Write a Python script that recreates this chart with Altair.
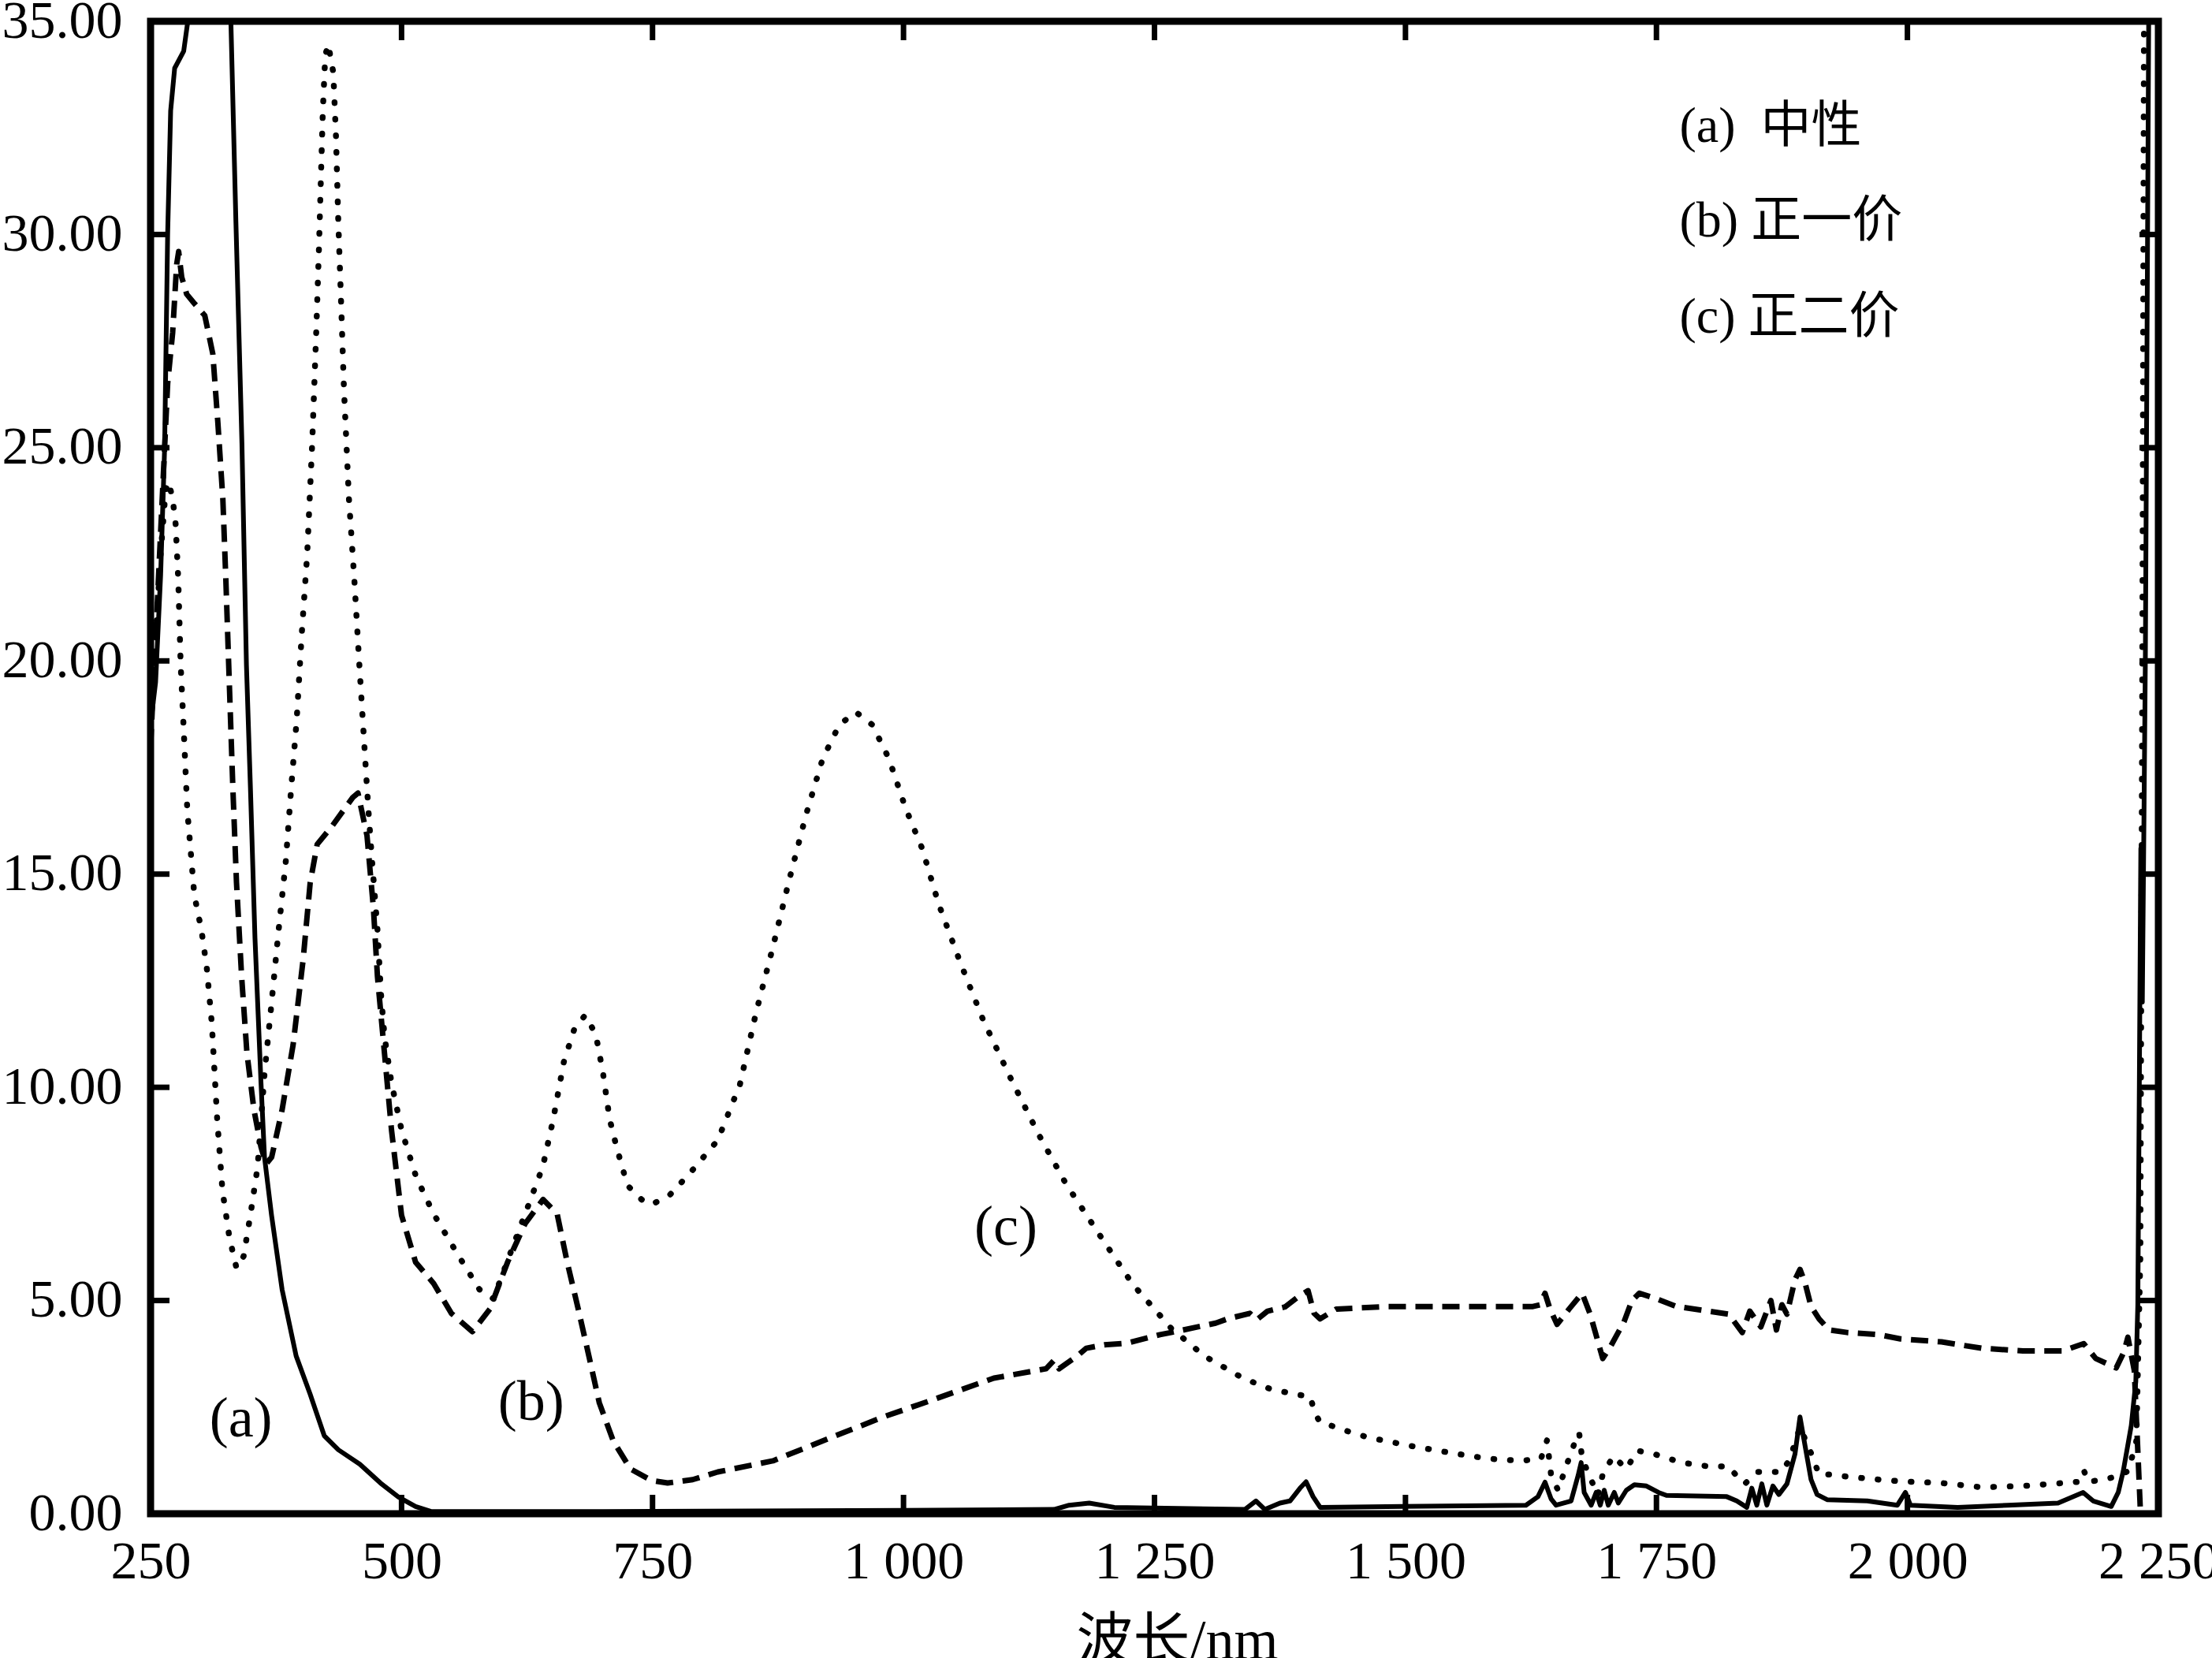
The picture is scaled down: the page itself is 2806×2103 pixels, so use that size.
import altair as alt
import pandas as pd

# ---------------- data ----------------
# (a) 中性  -- solid
A_PTS = [
    (250, 18.5), (255, 19.5), (260, 22.0), (264, 25.0), (267, 30.0), (270, 32.9),
    (274, 33.9), (283, 34.3), (290, 35.5), (300, 37.0), (315, 37.0), (326, 36.0),
    (330, 35.0), (335, 30.3), (341, 25.1), (345.5, 19.9), (349.5, 17.0), (354, 13.5),
    (360, 10.1), (363.5, 8.36), (370.5, 7.0), (381, 5.26), (395, 3.7), (409, 2.8),
    (423, 1.83), (437, 1.5), (458.5, 1.16), (479, 0.72), (497, 0.39), (514, 0.17),
    (530, 0.05), (700, 0.05), (1000, 0.08), (1150, 0.1), (1165, 0.2), (1185, 0.25),
    (1210, 0.15), (1340, 0.1), (1351, 0.3), (1360, 0.1), (1375, 0.25), (1385, 0.3),
    (1395, 0.6), (1401, 0.75), (1408, 0.4), (1415, 0.15), (1620, 0.2), (1632, 0.4),
    (1639, 0.74), (1645, 0.35), (1650, 0.2), (1665, 0.3), (1672, 0.9), (1675, 1.2),
    (1678, 0.5), (1685, 0.2), (1690, 0.5), (1694, 0.2), (1698, 0.55), (1702, 0.2),
    (1708, 0.5), (1712, 0.25), (1720, 0.55), (1728, 0.68), (1740, 0.65), (1752, 0.5),
    (1760, 0.43), (1820, 0.4), (1830, 0.3), (1840, 0.15), (1845, 0.6), (1850, 0.2),
    (1855, 0.7), (1860, 0.2), (1866, 0.65), (1872, 0.45), (1880, 0.7), (1888, 1.4),
    (1893, 2.27), (1898, 1.6), (1904, 0.8), (1910, 0.45), (1920, 0.33), (1960, 0.3),
    (1990, 0.2), (1998, 0.5), (2003, 0.2), (2050, 0.15), (2100, 0.2), (2150, 0.25),
    (2175, 0.5), (2185, 0.3), (2203, 0.17), (2210, 0.5), (2215, 1.0), (2223, 2.07),
    (2227.5, 3.1), (2229.5, 4.9), (2231, 10.0), (2232.5, 15.6), (2234, 12.0),
    (2237, 20.0), (2241, 38.0),
]

# (b) 正一价  -- dashed
B_PTS = [
    (250, 18.0), (256, 21.0), (262, 24.0), (267, 26.5), (272, 27.7), (276, 29.3),
    (278, 29.6), (281, 29.0), (286, 28.6), (293, 28.4), (304, 28.1), (312, 27.2),
    (317, 25.6), (322, 23.8), (325, 21.9), (328.7, 19.3), (332, 17.0), (335.6, 14.8),
    (340.7, 12.6), (346, 10.8), (353, 9.47), (360, 8.6), (365, 8.2), (370.6, 8.36),
    (381, 9.47), (392, 11.0), (402, 13.0), (409, 14.8), (416, 15.7), (430, 16.1),
    (451.5, 16.8), (456.6, 16.9), (465.6, 15.9), (472, 14.2), (476, 12.6), (483, 10.8),
    (490, 9.0), (500, 7.0), (514, 5.9), (532, 5.4), (549.6, 4.7), (570.6, 4.27),
    (588, 4.8), (605.6, 5.9), (623, 6.8), (641, 7.37), (655, 7.03), (665, 5.9),
    (676, 4.8), (686.6, 3.7), (697, 2.6), (711, 1.7), (728, 1.05), (749, 0.78),
    (765, 0.72), (790, 0.8), (815, 0.98), (870, 1.24), (925, 1.76), (980, 2.27),
    (1035, 2.72), (1090, 3.18), (1142, 3.4), (1150, 3.6), (1155, 3.4), (1173, 3.7),
    (1182, 3.88), (1200, 3.96), (1222.5, 4.0), (1255.5, 4.2), (1266.6, 4.25),
    (1311, 4.47), (1322.8, 4.57), (1345, 4.7), (1352, 4.55), (1362.6, 4.75),
    (1380, 4.85), (1395, 5.12), (1403, 5.23), (1409, 4.7), (1415, 4.57), (1431, 4.8),
    (1483, 4.86), (1563, 4.86), (1627, 4.86), (1634, 4.9), (1639, 5.17), (1644, 4.8),
    (1651, 4.44), (1663, 4.8), (1676, 5.17), (1684, 4.68), (1696.5, 3.64),
    (1704.7, 3.94), (1717.7, 4.5), (1725.6, 5.0), (1733, 5.17), (1749, 5.05),
    (1770, 4.86), (1796, 4.77), (1822, 4.68), (1835.5, 4.25), (1843, 4.75),
    (1854, 4.38), (1864, 5.0), (1869.5, 4.31), (1875, 4.9), (1880, 4.68), (1888, 5.49),
    (1893, 5.73), (1898, 5.42), (1904, 4.86), (1912, 4.57), (1922, 4.31), (1940, 4.25),
    (1971.5, 4.2), (1993, 4.1), (2034, 4.03), (2074, 3.88), (2115, 3.82), (2155, 3.82),
    (2175.6, 3.99), (2187.6, 3.64), (2208, 3.42), (2215.6, 3.79), (2219.6, 4.14),
    (2226, 3.36), (2229.7, 1.37), (2232, 0.1),
]

# (c) 正二价  -- dotted
C_PTS = [
    (250, 19.0), (255, 20.5), (260, 22.5), (265, 24.0), (268, 24.2), (272, 23.8),
    (275, 23.2), (277.6, 21.9), (280, 19.9), (283, 18.4), (286.6, 16.5),
    (293.6, 14.5), (300.6, 13.7), (306, 12.8), (311, 11.5), (316.4, 9.24),
    (321.6, 7.58), (328.6, 6.47), (335.6, 5.76), (342.7, 6.04), (349.6, 7.03),
    (356.6, 8.13), (363.6, 10.35), (370.6, 12.0), (377.6, 13.7), (384.7, 15.3),
    (390, 17.0), (395.5, 18.6), (400.5, 20.6), (406, 22.5), (411, 25.1), (415, 27.7),
    (417.7, 29.65), (420, 31.6), (421.6, 32.9), (424, 34.2), (427, 34.46), (432, 33.8),
    (434.7, 32.3), (437, 30.3), (439.8, 28.4), (442.6, 26.4), (447.6, 23.8), (453, 21.9),
    (458, 19.9), (463, 18.0), (467, 16.5), (470.5, 15.35), (476, 13.7), (479.5, 12.2),
    (483, 11.2), (490, 10.1), (500, 9.0), (514.5, 7.9), (532, 7.03), (557, 6.04),
    (577.6, 5.26), (591.6, 5.04), (598.7, 5.5), (612.5, 6.37), (626.6, 7.25),
    (640.7, 8.14), (651, 9.24), (661.7, 10.6), (672, 11.36), (682.8, 11.69),
    (693.4, 11.25), (700.5, 10.36), (707.3, 9.25), (714.4, 8.58), (725, 7.7), (739, 7.37),
    (749, 7.25), (767, 7.47), (787, 7.98), (815, 8.76), (837, 10.06), (853, 11.74),
    (870, 13.3), (886, 14.85), (903, 16.4), (919.4, 17.7), (936, 18.5), (952.5, 18.8),
    (969, 18.5), (985.6, 17.7), (1002, 16.55), (1018.6, 15.6), (1035, 14.3), (1057, 12.9),
    (1079, 11.6), (1107, 10.2), (1134.5, 8.9), (1162, 7.73), (1195, 6.55), (1228, 5.39),
    (1266.6, 4.35), (1299.6, 3.7), (1338, 3.18), (1366, 2.92), (1393, 2.79), (1405, 2.75),
    (1410, 2.35), (1415, 2.14), (1423, 2.09), (1448, 1.89), (1463, 1.79), (1503, 1.6),
    (1547, 1.42), (1583, 1.29), (1615, 1.24), (1635, 1.29), (1641, 1.72), (1645, 0.92),
    (1652, 0.55), (1662, 1.24), (1670.5, 1.79), (1673, 1.9), (1676, 1.29), (1691.6, 0.43),
    (1696.5, 0.92), (1707, 1.35), (1720, 1.05), (1731, 1.48), (1749, 1.39), (1775, 1.2),
    (1802, 1.11), (1822, 1.11), (1833, 0.8), (1838, 0.7), (1851, 0.98), (1867, 0.98),
    (1875, 0.98), (1883, 1.29), (1893, 2.03), (1904, 1.42), (1912, 0.92), (1922, 0.92),
    (1940, 0.87), (1971.5, 0.8), (1993, 0.76), (2034, 0.72), (2074, 0.62), (2115, 0.65),
    (2155, 0.72), (2172, 0.75), (2176, 1.0), (2180, 0.75), (2195, 0.8), (2208, 0.87),
    (2220, 1.0), (2228, 1.7), (2232, 6.0), (2234, 20.0), (2236, 38.0),
]

X_TICKS = [250, 500, 750, 1000, 1250, 1500, 1750, 2000, 2250]
Y_TICKS = [0, 5, 10, 15, 20, 25, 30, 35]
X_INNER_TICKS = [500, 750, 1000, 1250, 1500, 1750, 2000]
Y_INNER_TICKS = [5, 10, 15, 20, 25, 30]

CURVE_LABELS = ["(a)", "(b)", "(c)"]
CURVE_LABEL_X = [340, 629, 1102]
CURVE_LABEL_Y = [2.22, 2.6, 6.71]

LEGEND_TEXT = ["(a)\u00a0\u00a0中性", "(b) 正一价", "(c) 正二价"]
LEGEND_X = [1773, 1773, 1773]
LEGEND_Y = [32.52, 30.3, 28.05]

# ---------------- layout ----------------
W, H = 2547, 1893
PAD = {"left": 191, "top": 27, "right": 68, "bottom": 183}
SERIF = "Liberation Serif, Noto Sans CJK SC"

XS = alt.Scale(domain=[250, 2250], nice=False, zero=False)
YS = alt.Scale(domain=[0, 35], nice=False, zero=False)


def frame(pts):
    return pd.DataFrame({"wl": [p[0] for p in pts], "val": [p[1] for p in pts]})


x_axis = alt.Axis(
    values=X_TICKS,
    labelExpr="replace(format(datum.value, ','), ',', ' ')",
    ticks=False, domain=False, grid=False,
    labelFont=SERIF, labelFontSize=68, labelColor="black", labelPadding=27,
    labelFlush=False, labelOverlap=False,
    titleFont=SERIF, titleFontSize=72, titleFontWeight="normal", titleColor="black",
    titleX=1302, titleY=126, titleBaseline="top", titleAlign="center",
)
y_axis = alt.Axis(
    values=Y_TICKS, format=".2f",
    ticks=False, domain=False, grid=False,
    labelFont=SERIF, labelFontSize=68, labelColor="black", labelPadding=36,
    labelFlush=False, labelOverlap=False,
)

line_a = alt.Chart(frame(A_PTS)).mark_line(
    clip=True, color="black", strokeWidth=6, strokeJoin="round"
).encode(
    x=alt.X("wl:Q", scale=XS, axis=x_axis, title="波长/nm"),
    y=alt.Y("val:Q", scale=YS, axis=y_axis, title=None),
)

line_b = alt.Chart(frame(B_PTS)).mark_line(
    clip=True, color="black", strokeWidth=7, strokeDash=[22, 12], strokeJoin="round"
).encode(
    x=alt.X("wl:Q", scale=XS),
    y=alt.Y("val:Q", scale=YS),
)

line_c = alt.Chart(frame(C_PTS)).mark_line(
    clip=True, color="black", strokeWidth=7.5, strokeDash=[1, 20], strokeCap="round",
    strokeJoin="round",
).encode(
    x=alt.X("wl:Q", scale=XS),
    y=alt.Y("val:Q", scale=YS),
)

xt = pd.DataFrame({"v": X_INNER_TICKS})
yt = pd.DataFrame({"v": Y_INNER_TICKS})
TL = 24
tick_bottom = alt.Chart(xt).mark_rule(color="black", strokeWidth=7).encode(
    x=alt.X("v:Q", scale=XS), y=alt.value(H), y2=alt.value(H - TL))
tick_top = alt.Chart(xt).mark_rule(color="black", strokeWidth=7).encode(
    x=alt.X("v:Q", scale=XS), y=alt.value(0), y2=alt.value(TL))
tick_left = alt.Chart(yt).mark_rule(color="black", strokeWidth=7).encode(
    y=alt.Y("v:Q", scale=YS), x=alt.value(0), x2=alt.value(TL))
tick_right = alt.Chart(yt).mark_rule(color="black", strokeWidth=7).encode(
    y=alt.Y("v:Q", scale=YS), x=alt.value(W), x2=alt.value(W - TL))

curve_lab = alt.Chart(pd.DataFrame({
    "t": CURVE_LABELS, "x": CURVE_LABEL_X, "y": CURVE_LABEL_Y
})).mark_text(font=SERIF, fontSize=72, color="black", align="center", baseline="middle").encode(
    x=alt.X("x:Q", scale=XS), y=alt.Y("y:Q", scale=YS), text="t:N")

legend = alt.Chart(pd.DataFrame({
    "t": LEGEND_TEXT, "x": LEGEND_X, "y": LEGEND_Y
})).mark_text(font=SERIF, fontSize=64, color="black", align="left", baseline="middle").encode(
    x=alt.X("x:Q", scale=XS), y=alt.Y("y:Q", scale=YS), text="t:N")

chart = alt.layer(
    line_a, line_b, line_c, tick_bottom, tick_top, tick_left, tick_right, curve_lab, legend
).properties(
    width=W, height=H, autosize="none", padding=PAD, background="white"
).configure_view(
    stroke="black", strokeWidth=9
)

chart.save("out.html", embed_options={"renderer": "svg", "actions": False})
